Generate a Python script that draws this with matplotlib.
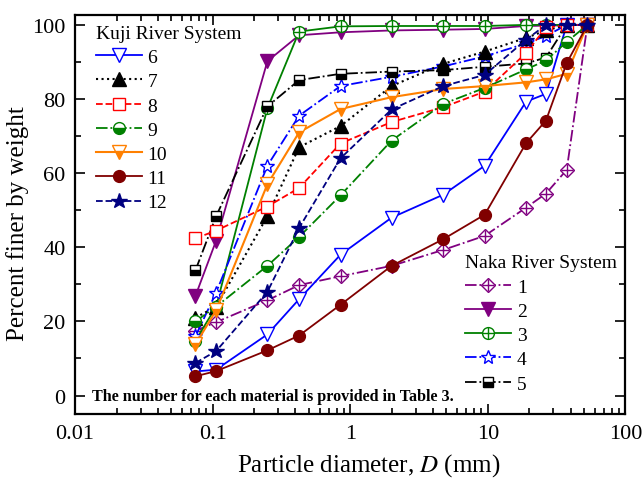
import matplotlib.pyplot as plt
from matplotlib.legend_handler import HandlerTuple

plt.rcParams['font.family'] = ['Liberation Serif', 'DejaVu Serif']
plt.rcParams['mathtext.fontset'] = 'stix'

# Sieve sizes (mm)
sieves = [0.075, 0.106, 0.25, 0.425, 0.85, 2, 4.75, 9.5, 19, 26.5, 37.5, 53]

# Kuji River System, percent finer by weight
kuji_6 = [6.5, 7.0, 16.5, 26, 38, 48, 54.2, 62, 79.3, 81.4, 100, 100]
kuji_7 = [21, 24, 48.4, 67, 72.7, 83.5, 89.5, 92.8, 96.5, 98.5, 100, 100]
kuji_8 = [42.4, 44.5, 51, 56, 68, 73.8, 77.8, 82, 92.4, 99.3, 100, 100]
kuji_9 = [20, 24, 35, 42.8, 54, 68.8, 78.7, 83, 88, 90.4, 95.4, 100]
kuji_10 = [13.8, 23, 57, 71, 77.3, 80.5, 82.7, 83.5, 84.5, 85.3, 86.8, 100]
kuji_11 = [5.2, 6.6, 12.2, 16.2, 24.5, 35, 42.2, 48.8, 68.1, 74.2, 89.7, 100]
kuji_12 = [8.8, 12, 28, 45.2, 64, 77.2, 83.5, 86.5, 96, 100, 100, 100]

# Naka River System
naka_1 = [17.5, 19.8, 25.7, 29.8, 32.2, 35, 39.3, 43.1, 50.7, 54.5, 60.9, 100]
naka_2_x = [0.075, 0.106, 0.25, 0.425, 0.85, 2, 4.75, 9.5, 19, 53]
naka_2 = [26.9, 41.8, 90.2, 97.2, 98, 98.5, 98.7, 98.9, 99.7, 100]
naka_3 = [14.8, 24, 77.5, 98.2, 99.6, 99.7, 99.7, 99.7, 100, 100, 100, 100]
naka_4 = [16, 27.8, 62, 75.5, 83.5, 86, 88.8, 91.5, 95, 97, 100, 100]
naka_5 = [33.8, 48.4, 78, 85.1, 86.8, 87.4, 87.8, 88.7, 89.6, 91.2, 100, 100]

kuji_labels = ['6', '7', '8', '9', '10', '11', '12']
naka_labels = ['1', '2', '3', '4', '5']

purple = '#800080'
green = '#008000'
orange = '#FF8000'
maroon = '#800000'
navy = '#000080'
ms = 8.5

fig = plt.figure(figsize=(6.42, 4.81), dpi=100)
ax = fig.add_axes([0.117, 0.137, 0.857, 0.830])

# Naka (drawn first, Kuji on top)
n1, = ax.plot(sieves, naka_1, '-.', color=purple, marker='D', ms=7.5, mfc='white', mec=purple, lw=1.3)
n1p, = ax.plot(sieves, naka_1, ls='none', marker='+', ms=9, mec=purple, mew=1.0)
n2, = ax.plot(naka_2_x, naka_2, '-', color=purple, marker='v', ms=ms + 1, mfc=purple, mec=purple, lw=1.3)
n3, = ax.plot(sieves, naka_3, '-', color=green, marker='o', ms=ms, mfc='white', mec=green, lw=1.3)
n3p, = ax.plot(sieves, naka_3, ls='none', marker='+', ms=ms, mec=green, mew=1.0)
n4, = ax.plot(sieves, naka_4, '-.', color='blue', marker='*', ms=ms + 2, mfc='white', mec='blue', lw=1.3)
n5, = ax.plot(sieves, naka_5, '-.', color='black', marker='s', ms=ms - 1, fillstyle='bottom',
              mfc='black', mfcalt='white', mec='black', lw=1.3)

k6, = ax.plot(sieves, kuji_6, '-', color='blue', marker='v', ms=ms + 1, mfc='white', mec='blue', lw=1.3)
k7, = ax.plot(sieves, kuji_7, ':', color='black', marker='^', ms=ms + 1, mfc='black', mec='black', lw=1.5)
k8, = ax.plot(sieves, kuji_8, '--', color='red', marker='s', ms=ms - 0.5, mfc='white', mec='red', lw=1.3)
k9, = ax.plot(sieves, kuji_9, '-.', color=green, marker='o', ms=ms, fillstyle='bottom',
              mfc=green, mfcalt='white', mec=green, lw=1.3)
k10, = ax.plot(sieves, kuji_10, '-', color=orange, marker='v', ms=ms + 1, fillstyle='bottom',
               mfc=orange, mfcalt='white', mec=orange, lw=1.5)
k11, = ax.plot(sieves, kuji_11, '-', color=maroon, marker='o', ms=ms, mfc=maroon, mec=maroon, lw=1.3)
k12, = ax.plot(sieves, kuji_12, '--', color=navy, marker='*', ms=ms + 3, mfc=navy, mec=navy, lw=1.3)

ax.set_xscale('log')
ax.set_xlim(0.01, 100)
ax.set_ylim(-5, 102.7)
ax.set_yticks([0, 20, 40, 60, 80, 100])
ax.set_yticks([10, 30, 50, 70, 90], minor=True)
ax.set_xticks([0.01, 0.1, 1, 10, 100])
ax.set_xticklabels(['0.01', '0.1', '1', '10', '100'])
ax.tick_params(which='both', direction='in', top=True, right=True, labelsize=16, width=1.2)
ax.tick_params(which='major', length=7, pad=7)
ax.tick_params(which='minor', length=4)
for s in ax.spines.values():
    s.set_linewidth(1.6)

ax.set_xlabel('Particle diameter, $\\mathit{D}$ (mm)', fontsize=18, labelpad=6, x=0.533)
ax.set_ylabel('Percent finer by weight', fontsize=18, labelpad=2, y=0.479)

leg1 = ax.legend([k6, k7, k8, k9, k10, k11, k12], kuji_labels, title='Kuji River System',
                 loc='upper left', bbox_to_anchor=(0.038, 0.975), frameon=False, fontsize=14,
                 title_fontsize=14, alignment='left', handlelength=2.35, labelspacing=0.34,
                 handletextpad=0.3, borderpad=0, borderaxespad=0)
ax.add_artist(leg1)
ax.legend([(n1, n1p), n2, (n3, n3p), n4, n5], naka_labels, title='Naka River System',
          handler_map={tuple: HandlerTuple(ndivide=1)},
          loc='upper left', bbox_to_anchor=(0.709, 0.40), frameon=False, fontsize=14,
          title_fontsize=14, alignment='left', handlelength=2.35, labelspacing=0.34,
          handletextpad=0.3, borderpad=0, borderaxespad=0)

ax.text(0.03, 0.045, 'The number for each material is provided in Table 3.', transform=ax.transAxes,
        fontsize=11.6, fontweight='bold', va='center', ha='left')

fig.savefig('out.png', dpi=100)
